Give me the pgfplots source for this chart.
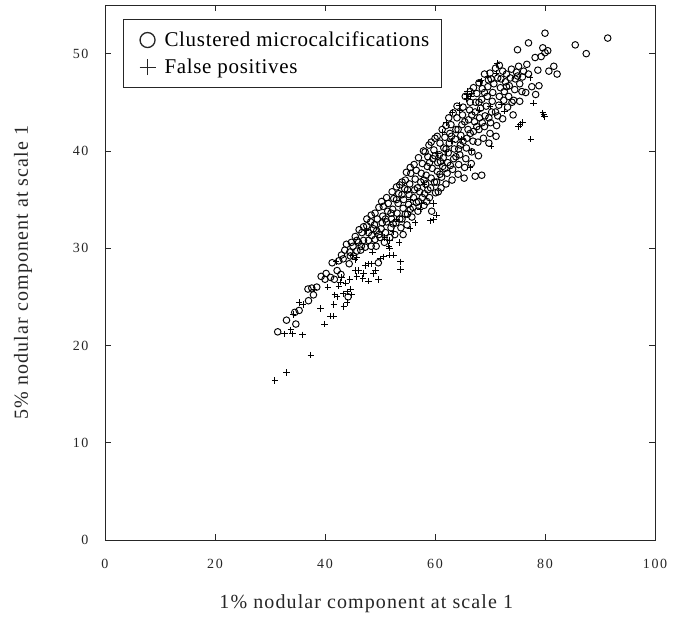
\documentclass[border=0pt]{standalone}
\usepackage{fontspec}
\setmainfont{Liberation Serif}
\usepackage{pgfplots}
\pgfplotsset{compat=1.18}
\usepackage{pgfplotstable}
\pgfplotstableread{
x y
30.9 16.4
33 17.2
37.4 19
35.9 21.1
34.1 21.2
33.8 21.6
32.6 21.2
39.9 22.2
41 23
41.6 23
39.2 23.8
41.6 24.2
43.4 24
44 24.4
41.8 25.2
42.2 25
43.3 25.3
44 25.5
44.8 25.2
44.7 25.8
42.5 26.1
42.8 26.5
43.8 26.4
44.5 26.8
40.5 26
35.3 24.4
36 24.2
34.2 23.2
45.5 27.7
46.1 27.7
45.8 27.1
47 27.4
46.9 26.9
47.9 26.6
48.8 27.4
49.2 27.7
49.7 26.8
47.3 28.2
47.9 28.4
48.5 28.4
48.6 29.6
50 28.9
50.7 29.1
51.7 29.3
52.5 29.3
53.7 28.6
53.7 27.8
51.7 30.8
51.6 30.2
51.7 30
53.5 30.6
50.9 31.1
52.4 31.7
55.5 32
56.4 32.6
59.2 32.8
59.7 32.9
60.3 33.4
59.7 34.6
57.6 34.6
57.3 34
45.8 29
45 29.2
70.2 40.5
77.4 41.2
77.9 44.9
79.8 43.7
79.6 43.9
79.9 43.5
75.5 42.7
75.9 42.9
75.2 42.5
72.6 44.1
72.1 44.8
77.3 47.5
69.6 47.7
71.3 49
71.1 48
68.2 47.1
68.4 47.2
65.9 46.1
65.9 45.8
66.5 45.6
66.7 45.9
64.4 44.7
64.5 44.2
63.1 44
62 42.9
61.4 41.9
66.4 38.3
66.7 40
65.8 45.4
63 41
60.5 39.7
58 36.5
55.5 35
53 33
62 39.9
64.8 41.2
68 44.2
70 44.6
47.5 31.8
45.5 28.8
42 28.6
43 27
38 25.8
}\fp
\pgfplotstableread{
x y
31.4 21.4
33 22.6
34.7 22.2
34.5 23.4
35.3 23.6
37 24.6
37.9 25.2
36.9 25.8
37.6 25.9
38.5 26
39.3 27.1
40.2 27.4
41.7 26.8
40 26.8
41 27
41.3 28.5
42.2 27.7
42.9 27.3
43 29.3
43.9 30.4
44.2 25
49.7 28.5
54.2 31.4
49.1 33.6
59.4 33.8
58.5 34.8
45.8 30.8
46.7 31.6
47.6 32.3
48.3 32.7
47.3 30.1
45.8 29.7
44.5 29.6
44.4 28.4
43.3 28.9
45.1 30.2
47.9 30.8
49.1 30.9
48.5 31.3
49.4 31.8
47 30.8
46.1 30.6
49 32.4
49.5 33
49.8 34.2
50 31.1
50.2 32
50.5 33.3
50.6 34.3
50.8 30.6
51 31.6
51.2 32.7
51.4 33.8
51.5 34.6
51.8 31.1
52 32.1
52.1 33
52.3 34
52.5 35.1
52.7 31.4
52.9 32.6
53.1 33.6
53.3 34.6
53.4 35.6
53.6 36.5
53.8 32.1
54 33
54.2 34.1
54.3 35
54.5 36.1
54.6 37
54.9 32.4
55 33.5
55.2 34.5
55.3 35.5
55.4 36.6
55.6 37.7
55.8 33.2
56 34.2
56.1 35.2
56.3 36
56.4 37.1
56.6 38
56.9 33.8
57 34.8
57.2 35.8
57.4 36.8
57.5 37.7
57.7 38.7
58 34.4
58.1 35.6
58.3 36.6
58.4 37.5
58.6 38.4
58.7 39.4
58.9 40.6
59 35.2
59.2 36.2
59.3 37.2
59.5 38.2
59.6 39.2
59.8 40.1
60.1 35.7
60.3 36.8
60.4 37.9
60.5 38.8
60.6 35.8
60.8 39.6
60.9 40.8
61.1 36.2
61.2 37.3
61.4 38.4
61.5 39.3
61.6 40.3
61.8 41.4
62 36.6
62.2 37.7
62.3 38.8
62.4 39.8
62.6 40.8
62.7 41.8
62.9 42.7
63.1 37
63.2 38.1
63.4 39.2
63.5 40.2
63.7 41.2
63.8 42.2
64 43.4
64.2 37.6
64.3 38.6
64.5 39.6
64.6 40.6
64.7 41.6
64.9 42.7
65 43.7
65.1 44.5
65.3 37.2
65.4 38.3
65.6 39.2
65.7 40.3
65.8 41.3
66 42.2
66.1 43.2
66.3 44.2
66.4 45
66.6 38.7
66.7 39.9
66.9 41
67 42
67.2 43
67.3 44
67.4 45
67.6 45.9
67.3 37.4
68.5 37.5
67.9 39.5
67.8 40.9
68 42.2
68.1 43.4
68.3 44.4
68.5 45.3
68.6 46.4
68.8 41.3
69 42.5
69.1 43.6
69.3 44.6
69.5 45.6
69.6 46.6
69.7 47.3
69.8 40.8
70 41.8
70.1 42.9
70.3 44
70.4 45.1
70.5 46
70.7 46.9
71 48.5
71.7 48.8
71.1 41.5
71.2 42.6
71.4 43.6
71.6 44.7
71.7 45.6
71.9 46.5
72 47.4
72.3 43.3
72.5 45.2
72.6 46.1
72.8 47.1
73 47.9
73.2 44.5
73.4 45.6
73.5 46.7
73.7 47.5
73.9 48.4
74.2 43.7
74.3 45.2
74.5 46.3
74.6 47.4
74.8 48.1
75.2 48.7
75.4 45.1
75.4 46.9
75.8 46.1
75.9 47.6
76.1 48.2
76.7 48.9
76.5 46
77 47.9
77 51.1
75 50.4
79.6 50.6
80.5 50.3
80 50.1
79.3 49.7
78.2 49.6
78.7 48.3
81.6 48.7
80.7 48.2
82.2 47.9
78.9 46.7
77.6 46.6
78.3 45.8
80 52.1
91.4 51.6
85.5 50.9
87.5 50
42.5 28.7
43.6 29.8
44.8 30.6
45.5 31.2
46.2 31.9
47 32.2
47.6 33
48.4 33.4
48.8 32
44.6 29.2
46.5 29.8
47.9 31.6
48.4 30.2
49.3 30.2
46.6 30.2
45.2 29.2
50.3 34.8
51.2 35.2
52.2 35.8
53 36.3
54 36.8
54.8 37.8
55.5 38.3
56.2 38.6
57 39.3
57.9 40
58.2 39.9
59.3 40.9
60 41.3
60.4 41.5
61.3 42.2
62 42.6
62.5 43.4
63.3 43.9
64 44.6
65.5 45.6
66.4 46.1
67 46.5
68 47
69 47.9
70 48
52.4 32.5
53.6 33
54.6 33.5
55.5 34
56.6 34.7
57.7 35.2
58.7 36
59.9 36.8
60.9 37.6
61.8 38.2
62.8 38.5
63.8 39.4
64.3 40.2
65.1 41
66.4 41.8
67.6 42.5
68.6 42.9
69.8 43.4
71 44
56.8 36.2
58 37
59 38.8
60 39.5
61 38.9
62 40.2
63 41.5
64.2 42.2
65.4 43
66.7 43.7
68 45
69 46
70.2 47.4
71.4 47.5
72.3 48.2
73 46.6
74 45
75 47.7
55 36
54 35.5
53 35
52 33.6
51 33
50.4 32.6
49.8 31.4
}\cm
\begin{document}
\begin{tikzpicture}[x=1pt,y=1pt]
\useasboundingbox (-105,-77) rectangle (577,540);
\begin{axis}[
  at={(0,0)},anchor=south west,
  scale only axis,width=550pt,height=535pt,
  xmin=0,xmax=100,ymin=0,ymax=55,
  xtick={0,20,40,60,80,100},ytick={0,10,20,30,40,50},
  tick align=inside,major tick length=6pt,
  axis line style={line width=0.9pt,black!85},
  every tick/.style={black!85,line width=0.7pt},
  /pgf/number format/assume math mode=true,
  tick label style={font=\fontsize{14}{16}\selectfont\addfontfeatures{LetterSpace=12},black!85},
  xticklabel style={yshift=-16pt},
  yticklabel style={xshift=-13pt},
  clip=false,
  xlabel={1\% nodular component at scale 1},
  ylabel={5\% nodular component at scale 1},
  label style={font=\fontsize{20}{22}\selectfont\addfontfeatures{LetterSpace=5.5},black!85},
  xlabel style={at={(axis description cs:0.475,0)},anchor=center,yshift=-64pt},
  ylabel style={at={(axis description cs:0,0.5)},anchor=center,yshift=82pt},
  legend style={at={(axis cs:3.3,53.56)},anchor=north west,draw=black!85,line width=0.8pt,
    font=\fontsize{21}{23}\selectfont\addfontfeatures{LetterSpace=3.2},inner xsep=10.5pt,inner ysep=10.5pt,row sep=7pt},
  legend cell align=left,
]
\addplot[only marks,mark=o,mark size=3.3pt,mark options={line width=0.95pt,black,fill=none},
  legend image code/.code={\path[draw=none] (0pt,0pt) -- (28.5pt,0pt);\draw[line width=1.3pt,black!85] (13.5pt,0pt) circle (7.5pt);}] table {\cm};
\addplot[only marks,mark=+,mark size=3.2pt,mark options={line width=0.95pt,black},
  legend image code/.code={\path[draw=none] (0pt,0pt) -- (28.5pt,0pt);\draw[line width=0.9pt,black!85] (5.5pt,0pt) -- (21.5pt,0pt) (13.5pt,-8pt) -- (13.5pt,8pt);}] table {\fp};
\legend{Clustered microcalcifications,False positives}
\end{axis}
\end{tikzpicture}
\end{document}
